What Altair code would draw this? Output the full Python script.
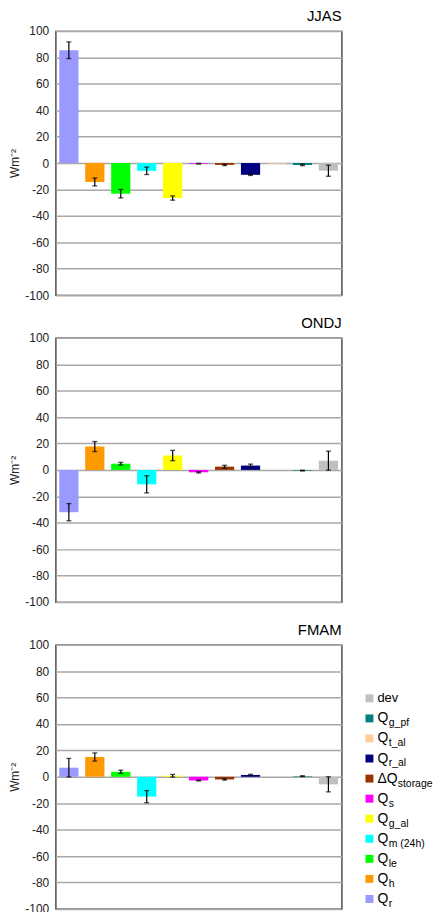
import altair as alt
import pandas as pd

# ---- data ----
categories = ["Qr", "Qh", "Qle", "Qm", "Qg_al", "Qs", "dQstorage", "Qr_al", "Qt_al", "Qg_pf", "dev"]
label_main = ["Q", "Q", "Q", "Q", "Q", "Q", "ΔQ", "Q", "Q", "Q", "dev"]
label_sub = ["r", "h", "le", "m (24h)", "g_al", "s", "storage", "r_al", "t_al", "g_pf", ""]
colors = ["#9999FF", "#FF9900", "#00FF00", "#00FFFF", "#FFFF00", "#FF00FF",
          "#993300", "#000080", "#FFCC99", "#008080", "#C0C0C0"]

seasons = ["JJAS", "ONDJ", "FMAM"]
jjas_values = [85.4, -14.3, -23.2, -5.9, -26.5, -0.5, -1.4, -8.9, -0.5, -1.4, -5.8]
jjas_errors = [6.3, 3.0, 3.2, 2.8, 1.6, 0.3, 0.5, 0.5, None, 0.6, 4.2]
ondj_values = [-32.0, 17.7, 4.7, -10.9, 10.9, -1.8, 2.5, 3.3, 0.0, -0.5, 7.0]
ondj_errors = [6.5, 3.8, 1.0, 6.5, 3.9, 0.5, 1.0, 1.1, None, 0.3, 7.2]
fmam_values = [6.9, 15.0, 3.8, -15.0, 0.8, -2.8, -2.0, 1.4, 0.0, 0.5, -5.7]
fmam_errors = [7.0, 3.1, 1.2, 4.6, 1.0, 0.3, 0.5, 0.5, None, 0.3, 5.7]
y_ticks = [-100, -80, -60, -40, -20, 0, 20, 40, 60, 80, 100]

FONT = "Liberation Sans"
color_scale = alt.Scale(domain=categories, range=colors)
yscale = alt.Scale(domain=[-100, 100], nice=False)
yaxis = alt.Axis(values=y_ticks, title="Wm⁻²", labelOverlap=False,
                 labelExpr="datum.value + ''",
                 ticks=False, tickSize=0, domain=False, labelPadding=7,
                 labelFontSize=12, labelFont=FONT, labelColor="#222",
                 titleFont=FONT, titleFontSize=12, titleFontWeight="normal",
                 titleColor="#222", titlePadding=3,
                 gridColor="#A8A8A8", gridWidth=1.5)


def panel(season, values, errors):
    df = pd.DataFrame({"cat": categories, "value": values, "err": errors})
    df["err"] = pd.to_numeric(df["err"])
    df["lo"] = df["value"] - df["err"]
    df["hi"] = df["value"] + df["err"]
    x = alt.X("cat:N", sort=categories, axis=None,
              scale=alt.Scale(paddingInner=0.26, paddingOuter=0.14))
    base = alt.Chart(df).encode(x=x)
    bars = base.mark_bar().encode(
        y=alt.Y("value:Q", scale=yscale, axis=yaxis),
        color=alt.Color("cat:N", scale=color_scale, legend=None),
    )
    rule = base.mark_rule(color="black", strokeWidth=1.2).encode(
        y=alt.Y("lo:Q", scale=yscale, axis=yaxis), y2="hi:Q")
    cap_lo = base.mark_tick(color="black", size=5, thickness=1.3).encode(
        y=alt.Y("lo:Q", scale=yscale, axis=yaxis))
    cap_hi = base.mark_tick(color="black", size=5, thickness=1.3).encode(
        y=alt.Y("hi:Q", scale=yscale, axis=yaxis))
    return alt.layer(bars, rule, cap_lo, cap_hi).properties(
        width=288, height=266,
        title=alt.TitleParams(season, anchor="end", fontSize=15, font=FONT,
                              fontWeight="normal", color="black", offset=1),
    )


p1 = panel(seasons[0], jjas_values, jjas_errors)
p2 = panel(seasons[1], ondj_values, ondj_errors)
p3 = panel(seasons[2], fmam_values, fmam_errors)

# ---- legend (built as a small chart to allow subscripts) ----
leg_df = pd.DataFrame({"cat": categories, "main": label_main, "sub": label_sub})
leg_order = categories[::-1]
ly = alt.Y("cat:N", sort=leg_order, axis=None,
           scale=alt.Scale(range=[54, 256], padding=0))
leg_base = alt.Chart(leg_df)
sym = leg_base.mark_square(size=64, opacity=1).encode(
    x=alt.value(8), y=ly, color=alt.Color("cat:N", scale=color_scale, legend=None))
main_q = leg_base.transform_filter("datum.main != 'dev'").mark_text(
    align="left", baseline="middle", fontSize=14, font=FONT, color="black").encode(
    x=alt.value(16), y=ly, text="main:N")
main_dev = leg_base.transform_filter("datum.main == 'dev'").mark_text(
    align="left", baseline="middle", fontSize=13, font=FONT, color="black").encode(
    x=alt.value(16), y=ly, text="main:N")
sub_q = leg_base.transform_filter("datum.main == 'Q'").mark_text(
    align="left", baseline="middle", fontSize=10.5, font=FONT, color="black",
    dx=11.5, dy=5).encode(x=alt.value(16), y=ly, text="sub:N")
sub_dq = leg_base.transform_filter("datum.main == 'ΔQ'").mark_text(
    align="left", baseline="middle", fontSize=10.5, font=FONT, color="black",
    dx=20.5, dy=5).encode(x=alt.value(16), y=ly, text="sub:N")
legend = alt.layer(sym, main_q, main_dev, sub_q, sub_dq).properties(
    width=70, height=266, view=alt.ViewBackground(stroke="transparent"))

chart = alt.vconcat(
    p1, p2, alt.hconcat(p3, legend, spacing=18), spacing=13
).properties(
    padding={"left": 8, "top": 5, "right": 0, "bottom": 0}
).configure_view(stroke="#222", strokeWidth=1.2)

chart.save("out.html", embed_options={"renderer": "svg", "actions": False})
